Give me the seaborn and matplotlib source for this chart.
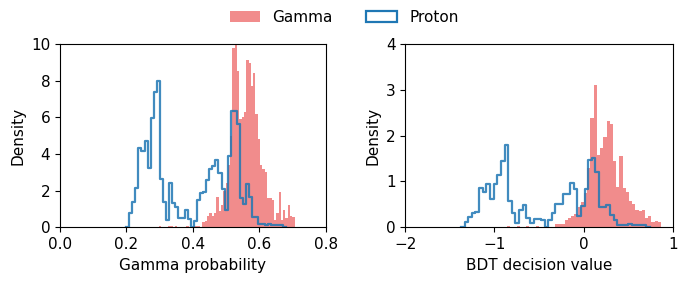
import numpy as np
import pandas as pd
import matplotlib.pyplot as plt
from matplotlib.patches import Patch
import seaborn as sns

# Gamma probability histograms (density per bin)
prob_gamma_start = 0.290
prob_gamma_width = 0.00693
prob_gamma = [0, 0.08, 0, 0, 0, 0.08, 0.08, 0, 0.08, 0,
              0, 0, 0, 0.08, 0, 0, 0.08, 0.08, 0.08, 0,
              0.3, 0.35, 0.6, 0.76, 0.6, 0.8, 1.67, 0.9, 1.2, 2.0,
              2.4, 3.4, 5.0, 9.8, 10.0, 8.5, 5.9, 6.0, 6.3, 9.1,
              8.95, 7.7, 8.4, 6.2, 4.8, 3.4, 3.2, 3.0, 1.6, 1.6,
              1.5, 0.4, 0.8, 1.95, 0.4, 0.95, 0.5, 1.2, 0.6, 0.55]

prob_proton_start = 0.208
prob_proton_width = 0.00926
prob_proton = [0.80, 1.40, 2.13, 4.34, 4.16, 4.73, 3.25, 5.98, 7.40, 8.0,
               2.64, 1.40, 0.40, 2.43, 1.31, 1.09, 0.49, 0.49, 0.94, 0.45,
               0.0, 0.36, 1.5, 1.85, 1.94, 2.58, 3.16, 3.35, 3.65, 2.98,
               2.1, 0.95, 3.9, 6.35, 6.35, 5.65, 1.6, 1.27, 2.36, 1.67,
               0.58, 0.58, 0.2, 0.2, 0.15, 0.2, 0.1, 0.15, 0.15, 0.1]

# BDT decision value histograms (density per bin)
bdt_gamma_start = -1.29
bdt_gamma_width = 0.036
bdt_gamma = [0, 0, 0, 0, 0, 0, 0, 0, 0, 0,
             0, 0, 0.02, 0, 0, 0.02, 0, 0, 0.02, 0,
             0, 0.02, 0, 0, 0, 0, 0, 0.07, 0.07, 0.07,
             0.16, 0.2, 0.25, 0.3, 0.45, 0.55, 0.75, 1.3, 2.38, 3.1,
             1.58, 1.72, 1.98, 2.33, 2.25, 1.45, 0.89, 1.56, 0.85, 0.78,
             0.58, 0.5, 0.38, 0.35, 0.38, 0.2, 0.25, 0.12, 0.14, 0.12]

bdt_proton_start = -1.335
bdt_proton_width = 0.0408
bdt_proton = [0.12, 0.22, 0.32, 0.34, 0.85, 0.76, 0.94, 0.61, 0.95, 1.14,
              1.45, 1.80, 0.58, 0.31, 0.10, 0.38, 0.49, 0.20, 0.09, 0.18,
              0.18, 0.16, 0.0, 0.15, 0.31, 0.51, 0.51, 0.73, 0.73, 0.96,
              0.83, 0.25, 0.47, 0.83, 1.47, 1.52, 1.21, 0.45, 0.45, 0.49,
              0.27, 0.17, 0.05, 0.06, 0.05, 0.07, 0.05, 0.06, 0.05, 0.04]

gamma_color = "lightcoral"
proton_color = "#1f77b4"


def binned(start, width, heights, closed=False):
    if closed:
        # empty bin on each side so the step outline drops to zero
        heights = [0.0] + list(heights) + [0.0]
        start = start - width
    edges = start + width * np.arange(len(heights) + 1)
    centers = (edges[:-1] + edges[1:]) / 2
    return pd.DataFrame({"x": centers, "w": heights}), edges.tolist()


def draw_panel(ax, gamma, proton):
    gdf, gedges = binned(*gamma)
    pdf, pedges = binned(*proton, closed=True)
    sns.histplot(data=gdf, x="x", weights="w", bins=gedges, stat="count",
                 color=gamma_color, alpha=0.9, linewidth=0, ax=ax)
    sns.histplot(data=pdf, x="x", weights="w", bins=pedges, stat="count",
                 element="step", fill=False, color=proton_color, alpha=0.85,
                 linewidth=1.6, ax=ax)
    ax.set_ylabel("Density")


plt.rcParams["font.size"] = 11
fig = plt.figure(figsize=(6.88, 2.82), dpi=100)
ax1 = fig.add_axes([0.0872, 0.194, 0.3866, 0.650])
ax2 = fig.add_axes([0.589, 0.194, 0.3887, 0.650])

draw_panel(ax1, (prob_gamma_start, prob_gamma_width, prob_gamma),
           (prob_proton_start, prob_proton_width, prob_proton))
ax1.set_xlim(0, 0.8)
ax1.set_ylim(0, 10)
ax1.set_xticks([0.0, 0.2, 0.4, 0.6, 0.8])
ax1.set_yticks([0, 2, 4, 6, 8, 10])
ax1.set_xlabel("Gamma probability")

draw_panel(ax2, (bdt_gamma_start, bdt_gamma_width, bdt_gamma),
           (bdt_proton_start, bdt_proton_width, bdt_proton))
ax2.set_xlim(-2, 1)
ax2.set_ylim(0, 4)
ax2.set_xticks([-2, -1, 0, 1])
ax2.set_yticks([0, 1, 2, 3, 4])
ax2.set_xlabel("BDT decision value")

handles = [Patch(facecolor=gamma_color, alpha=0.9, edgecolor="none"),
           Patch(facecolor="white", edgecolor=proton_color, linewidth=1.6)]
fig.legend(handles, ["Gamma", "Proton"], loc="upper center", ncol=2,
           frameon=False, bbox_to_anchor=(0.5, 1.015), columnspacing=2.2)

fig.savefig("out.png", dpi=100)
